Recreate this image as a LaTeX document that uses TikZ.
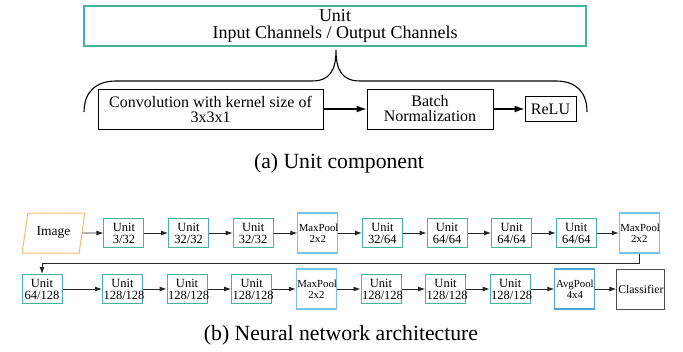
\documentclass[tikz,border=0pt]{standalone}
\usepackage{fontspec}
\setmainfont{Liberation Serif}
\usepackage{tikz}
\usetikzlibrary{shapes,shapes.geometric,arrows,arrows.meta,calc,positioning}

\definecolor{unitgreen}{RGB}{69,179,157}
\definecolor{poolblue}{RGB}{122,192,232}
\definecolor{avgblue}{RGB}{79,163,217}
\definecolor{imgorange}{RGB}{246,188,114}

\tikzset{
  topunit/.style={draw=unitgreen,line width=1.2pt,minimum width=502pt,minimum height=40pt,
                  align=center,inner sep=1pt,font=\fontsize{18}{17}\selectfont},
  block/.style={draw,line width=1pt,minimum height=40pt,align=center,inner sep=2pt,
                font=\fontsize{16}{15}\selectfont},
  unit/.style={draw=unitgreen,line width=1pt,minimum width=40pt,minimum height=29pt,
               text width=38pt,inner sep=1pt,align=center,font=\fontsize{12.5}{12}\selectfont},
  pool/.style={draw=poolblue,line width=1.1pt,minimum width=40pt,minimum height=40pt,
               text width=38pt,inner sep=1pt,align=center,font=\fontsize{10.8}{11}\selectfont},
  imagebox/.style={draw=imgorange,line width=1pt,trapezium,trapezium left angle=76,
                   trapezium right angle=104,trapezium stretches=true,
                   minimum width=63pt,minimum height=40pt,font=\fontsize{13.5}{14}\selectfont},
  classbox/.style={draw=black!70,line width=1pt,minimum width=48pt,minimum height=40pt,
                   inner sep=1pt,font=\fontsize{11.8}{12}\selectfont},
  caption/.style={inner sep=0pt,font=\fontsize{21.7}{24}\selectfont}
}

\begin{document}
\begin{tikzpicture}[x=1pt,y=1pt,>={Latex[length=7pt,width=5pt]},node distance=23.6pt]
  \useasboundingbox (0,0) rectangle (683,-351);

  % unit component
  \node[topunit] (unit) at (335,-26) {Unit\\Input Channels / Output Channels};
  \node[block,minimum width=225pt] (conv) at (210.5,-109) {Convolution with kernel size of\\3x3x1};
  \node[block,minimum width=126pt] (bn) [right=43pt of conv] {Batch\\Normalization};
  \node[block,minimum width=51pt,minimum height=25pt,inner sep=1pt] (relu) [right=31pt of bn] {ReLU};

  \begin{scope}[line width=1.2pt,->,>={Latex[length=10pt,width=7pt]}]
    \path (conv) edge (bn)
          (bn)   edge (relu);
  \end{scope}

  % brace
  \draw[line width=1.1pt] (84,-112) .. controls (84,-92) and (96,-81) .. (116,-81)
      -- (312,-81) .. controls (330,-81) and (336,-70) .. (336,-50)
      .. controls (336,-70) and (342,-81) .. (360,-81)
      -- (556,-81) .. controls (576,-81) and (587,-92) .. (587,-112);

  \node[caption] (capa) at (339,-163) {(a) Unit component};

  % network, first row
  \node[imagebox] (img) at (53.5,-233) {Image};
  \node[unit] (u1) [right=21pt of img] {Unit\\3/32};
  \node[unit] (u2) [right=of u1] {Unit\\32/32};
  \node[unit] (u3) [right=of u2] {Unit\\32/32};
  \node[pool] (mp1) [right=of u3] {MaxPool\\2x2};
  \node[unit] (u4) [right=of mp1] {Unit\\32/64};
  \node[unit] (u5) [right=of u4] {Unit\\64/64};
  \node[unit] (u6) [right=of u5] {Unit\\64/64};
  \node[unit] (u7) [right=of u6] {Unit\\64/64};
  \node[pool] (mp2) [right=22pt of u7] {MaxPool\\2x2};

  % second row
  \node[unit] (v1) at (42,-289) {Unit\\64/128};
  \node[unit] (v2) [right=39.5pt of v1] {Unit\\128/128};
  \node[unit] (v3) [right=of v2] {Unit\\128/128};
  \node[unit] (v4) [right=of v3] {Unit\\128/128};
  \node[pool] (mp3) [right=of v4] {MaxPool\\2x2};
  \node[unit] (v5) [right=of mp3] {Unit\\128/128};
  \node[unit] (v6) [right=of v5] {Unit\\128/128};
  \node[unit] (v7) [right=of v6] {Unit\\128/128};
  \node[pool,draw=avgblue] (ap) [right=of v7] {AvgPool\\4x4};
  \node[classbox] (cls) [right=21pt of ap] {Classifier};

  \begin{scope}[line width=0.9pt,draw=black!85,->]
    \foreach \a/\b in {img/u1,u1/u2,u2/u3,u3/mp1,mp1/u4,u4/u5,u5/u6,u6/u7,u7/mp2,
                       v1/v2,v2/v3,v3/v4,v4/mp3,mp3/v5,v5/v6,v6/v7,v7/ap,ap/cls}
      \draw (\a) -- (\b);
    \draw (mp2.south) -- ++(0,-10) -| (v1.north);
  \end{scope}

  \node[caption] (capb) at (341,-335) {(b) Neural network architecture};
\end{tikzpicture}
\end{document}
